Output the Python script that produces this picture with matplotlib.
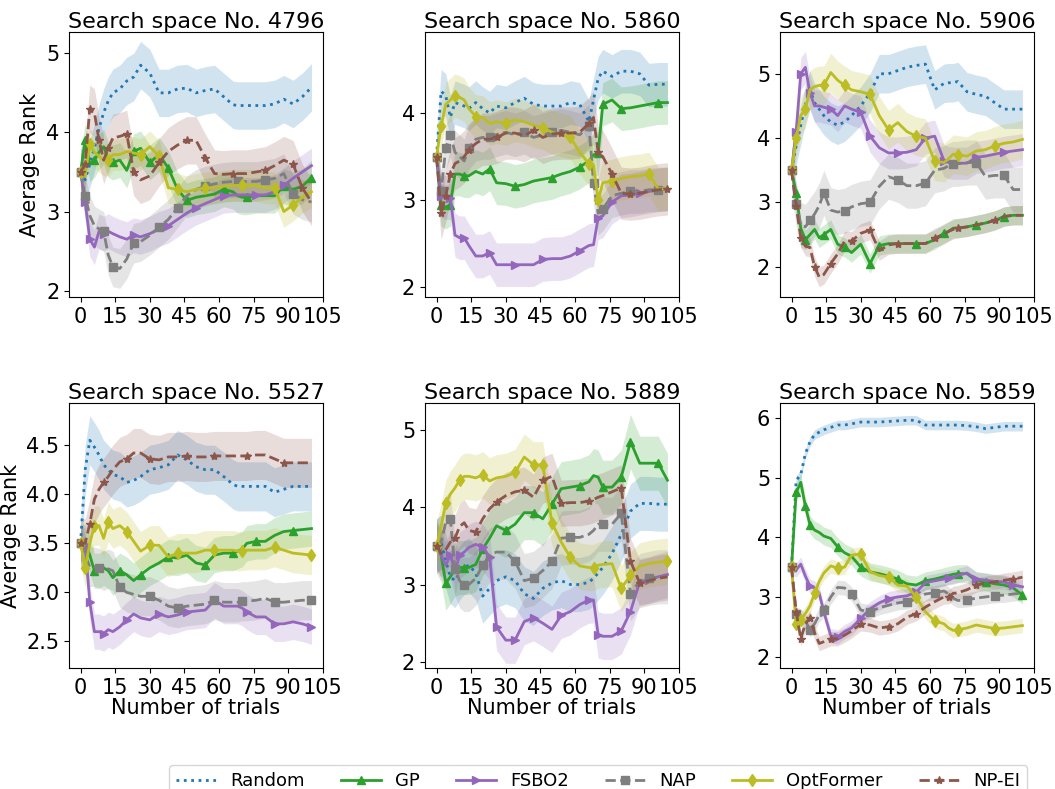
import numpy as np
import matplotlib
matplotlib.use('Agg')
import matplotlib.pyplot as plt
from matplotlib.ticker import MultipleLocator

trials = [0, 2, 4, 6, 8, 10, 12, 14, 17, 20, 23, 26, 30, 34, 38, 42, 46, 50,
          54, 58, 62, 66, 68, 70, 72, 76, 80, 84, 88, 92, 96, 100]

methods = ['Random', 'GP', 'FSBO2', 'NAP', 'OptFormer', 'NP-EI']
spaces = ['4796', '5860', '5906', '5527', '5889', '5859']

# ---- search space 4796
r4796_random = [3.5, 3.4, 3.6, 3.8, 4.05, 4.25, 4.4, 4.5, 4.55, 4.65, 4.7, 4.85, 4.75, 4.5, 4.5, 4.55,
                4.56, 4.5, 4.53, 4.55, 4.45, 4.35, 4.34, 4.34, 4.34, 4.34, 4.34, 4.36, 4.42, 4.36, 4.45, 4.57]
r4796_gp = [3.5, 3.9, 3.6, 3.65, 3.75, 3.82, 3.65, 3.62, 3.65, 3.52, 3.76, 3.8, 3.62, 3.72, 3.55, 3.28,
            3.14, 3.18, 3.2, 3.22, 3.28, 3.25, 3.2, 3.18, 3.18, 3.2, 3.2, 3.2, 3.32, 3.28, 3.32, 3.43]
r4796_fsbo = [3.5, 3.12, 2.65, 2.55, 2.75, 2.72, 2.75, 2.72, 2.68, 2.65, 2.7, 2.68, 2.72, 2.78, 2.82, 2.9,
              2.98, 3.05, 3.1, 3.15, 3.2, 3.21, 3.21, 3.21, 3.21, 3.21, 3.21, 3.25, 3.33, 3.42, 3.5, 3.58]
r4796_nap = [3.5, 3.2, 2.95, 2.82, 2.78, 2.75, 2.45, 2.3, 2.28, 2.4, 2.6, 2.62, 2.7, 2.8, 2.9, 3.05,
             3.2, 3.28, 3.32, 3.35, 3.37, 3.38, 3.38, 3.38, 3.38, 3.38, 3.4, 3.42, 3.48, 3.22, 3.15, 3.12]
r4796_opt = [3.5, 3.45, 3.85, 3.75, 3.7, 3.65, 3.65, 3.72, 3.72, 3.76, 3.74, 3.72, 3.82, 3.7, 3.3, 3.28,
             3.25, 3.28, 3.3, 3.3, 3.32, 3.33, 3.33, 3.33, 3.33, 3.33, 3.3, 3.3, 3.0, 3.08, 3.18, 3.25]
r4796_npei = [3.5, 3.6, 4.3, 4.25, 3.9, 3.65, 3.8, 3.93, 3.95, 3.98, 3.5, 3.4, 3.45, 3.62, 3.76, 3.84,
              3.9, 3.9, 3.68, 3.48, 3.47, 3.48, 3.48, 3.48, 3.48, 3.5, 3.52, 3.58, 3.65, 3.6, 3.3, 3.12]

# ---- search space 5860
r5860_random = [3.5, 4.25, 4.2, 3.95, 4.12, 4.1, 4.08, 4.05, 4.12, 4.05, 4.0, 4.08, 4.06, 4.12, 4.17, 4.1,
                4.08, 4.08, 4.08, 4.12, 4.1, 3.9, 4.15, 4.4, 4.48, 4.42, 4.48, 4.48, 4.45, 4.32, 4.33, 4.33]
r5860_gp = [3.5, 2.95, 2.92, 2.95, 3.3, 3.3, 3.28, 3.28, 3.33, 3.3, 3.36, 3.2, 3.19, 3.16, 3.18, 3.22,
            3.24, 3.26, 3.3, 3.33, 3.38, 3.45, 3.52, 3.54, 4.1, 4.15, 4.05, 4.06, 4.08, 4.1, 4.12, 4.12]
r5860_fsbo = [3.5, 3.05, 3.03, 3.03, 2.6, 2.57, 2.57, 2.48, 2.36, 2.36, 2.4, 2.26, 2.26, 2.26, 2.26, 2.26,
              2.32, 2.33, 2.33, 2.36, 2.42, 2.48, 2.49, 2.8, 2.82, 2.98, 3.05, 3.06, 3.08, 3.1, 3.12, 3.13]
r5860_nap = [3.5, 3.1, 3.6, 3.75, 3.55, 3.5, 3.45, 3.6, 3.7, 3.72, 3.72, 3.75, 3.78, 3.75, 3.78, 3.72,
             3.75, 3.78, 3.8, 3.78, 3.75, 3.85, 3.2, 2.85, 2.9, 3.05, 3.08, 3.1, 3.1, 3.12, 3.12, 3.13]
r5860_opt = [3.5, 3.85, 4.1, 4.15, 4.2, 4.18, 4.15, 4.05, 3.96, 3.95, 3.88, 3.9, 3.88, 3.92, 3.9, 3.86,
             3.83, 3.78, 3.75, 3.72, 3.55, 3.42, 3.4, 3.0, 3.2, 3.22, 3.25, 3.27, 3.28, 3.3, 3.13, 3.13]
r5860_npei = [3.5, 2.85, 3.05, 3.3, 3.42, 3.45, 3.5, 3.58, 3.65, 3.7, 3.7, 3.72, 3.77, 3.77, 3.74, 3.8,
              3.72, 3.76, 3.77, 3.77, 3.78, 3.88, 3.95, 3.55, 3.5, 3.3, 3.08, 3.07, 3.08, 3.1, 3.12, 3.13]

# ---- search space 5906
r5906_random = [3.5, 3.88, 4.2, 4.52, 4.75, 4.55, 4.45, 4.35, 4.25, 4.2, 4.25, 4.35, 4.5, 4.7, 5.0, 5.0,
                5.05, 5.1, 5.13, 5.15, 4.75, 4.85, 4.86, 4.86, 4.88, 4.72, 4.68, 4.65, 4.55, 4.45, 4.45, 4.45]
r5906_gp = [3.5, 3.15, 2.6, 2.42, 2.5, 2.58, 2.45, 2.5, 2.58, 2.35, 2.3, 2.22, 2.35, 2.05, 2.33, 2.36,
            2.36, 2.36, 2.36, 2.36, 2.42, 2.52, 2.55, 2.6, 2.6, 2.62, 2.65, 2.68, 2.72, 2.78, 2.8, 2.8]
r5906_fsbo = [3.5, 4.1, 5.0, 5.1, 4.7, 4.5, 4.5, 4.48, 4.45, 4.35, 4.5, 4.45, 4.4, 4.03, 3.85, 3.77,
              3.77, 3.78, 3.82, 4.0, 4.03, 3.65, 3.62, 3.61, 3.61, 3.61, 3.7, 3.72, 3.75, 3.78, 3.8, 3.82]
r5906_nap = [3.5, 2.98, 2.65, 2.62, 2.72, 2.82, 2.95, 3.15, 2.88, 2.85, 2.87, 2.93, 2.98, 3.0, 3.25, 3.4,
             3.35, 3.26, 3.26, 3.3, 3.5, 3.53, 3.57, 3.6, 3.6, 3.62, 3.62, 3.4, 3.42, 3.42, 3.2, 3.2]
r5906_opt = [3.5, 4.0, 4.35, 4.45, 4.75, 4.8, 4.82, 4.82, 5.02, 4.9, 4.82, 4.75, 4.72, 4.68, 4.35, 4.13,
             4.24, 4.1, 4.03, 4.0, 3.64, 3.62, 3.68, 3.75, 3.74, 3.72, 3.8, 3.82, 3.88, 3.92, 3.94, 3.98]
r5906_npei = [3.5, 2.95, 2.45, 2.32, 2.3, 2.0, 1.84, 1.88, 2.05, 2.2, 2.4, 2.4, 2.52, 2.57, 2.25, 2.34,
              2.36, 2.36, 2.36, 2.36, 2.45, 2.5, 2.55, 2.58, 2.6, 2.62, 2.65, 2.68, 2.72, 2.78, 2.8, 2.8]

# ---- search space 5527
r5527_random = [3.5, 4.25, 4.55, 4.48, 4.4, 4.3, 4.25, 4.2, 4.18, 4.12, 4.14, 4.18, 4.25, 4.27, 4.3, 4.4,
                4.35, 4.28, 4.25, 4.25, 4.18, 4.1, 4.08, 4.08, 4.08, 4.08, 4.08, 4.02, 4.05, 4.08, 4.08, 4.08]
r5527_gp = [3.5, 3.52, 3.38, 3.22, 3.22, 3.25, 3.22, 3.15, 3.22, 3.18, 3.12, 3.18, 3.25, 3.3, 3.36, 3.35,
            3.38, 3.3, 3.28, 3.38, 3.4, 3.4, 3.42, 3.44, 3.5, 3.52, 3.52, 3.58, 3.62, 3.63, 3.64, 3.65]
r5527_fsbo = [3.5, 3.48, 2.9, 2.6, 2.6, 2.58, 2.62, 2.6, 2.65, 2.72, 2.78, 2.74, 2.72, 2.78, 2.75, 2.77,
              2.8, 2.81, 2.82, 2.92, 2.86, 2.86, 2.86, 2.84, 2.8, 2.75, 2.75, 2.68, 2.68, 2.7, 2.68, 2.65]
r5527_nap = [3.5, 3.38, 3.26, 3.26, 3.25, 3.22, 3.24, 3.22, 3.05, 3.0, 2.98, 2.96, 2.96, 2.92, 2.86, 2.84,
             2.86, 2.87, 2.88, 2.92, 2.9, 2.9, 2.9, 2.91, 2.91, 2.92, 2.94, 2.9, 2.9, 2.91, 2.92, 2.92]
r5527_opt = [3.5, 3.25, 3.5, 3.68, 3.68, 3.55, 3.72, 3.65, 3.68, 3.62, 3.52, 3.42, 3.48, 3.48, 3.36, 3.4,
             3.4, 3.4, 3.43, 3.43, 3.43, 3.43, 3.42, 3.42, 3.43, 3.43, 3.43, 3.46, 3.43, 3.4, 3.39, 3.38]
r5527_npei = [3.5, 3.5, 3.7, 3.95, 4.05, 4.12, 4.18, 4.25, 4.33, 4.36, 4.42, 4.42, 4.36, 4.35, 4.38, 4.38,
              4.39, 4.38, 4.38, 4.39, 4.39, 4.39, 4.39, 4.39, 4.39, 4.4, 4.4, 4.36, 4.32, 4.32, 4.32, 4.32]

# ---- search space 5889
r5889_random = [3.5, 3.55, 3.3, 3.1, 3.05, 3.15, 3.22, 3.25, 3.15, 2.85, 2.95, 3.05, 3.1, 3.05, 2.88, 2.82,
                2.95, 3.02, 3.05, 3.0, 3.0, 3.03, 3.08, 3.15, 3.22, 3.4, 3.65, 3.95, 4.05, 4.05, 4.04, 4.04]
r5889_gp = [3.5, 3.38, 3.02, 3.1, 3.2, 3.22, 3.22, 3.22, 3.26, 3.46, 3.6, 3.76, 3.7, 3.78, 3.93, 3.93,
            3.85, 4.04, 4.24, 4.26, 4.28, 4.33, 4.41, 4.39, 4.26, 4.26, 4.39, 4.85, 4.57, 4.57, 4.57, 4.35]
r5889_fsbo = [3.5, 3.38, 3.25, 3.38, 3.17, 3.38, 3.42, 3.48, 3.52, 3.48, 3.36, 2.45, 2.28, 2.28, 2.52, 2.57,
              2.5, 2.42, 2.6, 2.65, 2.74, 2.8, 2.8, 2.35, 2.33, 2.33, 2.4, 2.65, 3.04, 3.06, 3.1, 3.13]
r5889_nap = [3.5, 3.55, 3.8, 3.85, 3.2, 3.05, 3.0, 3.0, 3.08, 3.25, 3.38, 3.42, 3.42, 3.3, 3.05, 3.08,
             3.18, 3.3, 3.6, 3.61, 3.61, 3.65, 3.7, 3.78, 3.78, 3.78, 3.92, 2.88, 3.05, 3.08, 3.1, 3.1]
r5889_opt = [3.5, 3.75, 4.05, 4.17, 4.25, 4.35, 4.4, 4.4, 4.38, 4.42, 4.34, 4.38, 4.4, 4.45, 4.65, 4.55,
             4.55, 3.8, 3.55, 3.35, 3.24, 3.22, 3.22, 3.25, 3.26, 3.27, 2.95, 3.12, 3.24, 3.27, 3.29, 3.3]
r5889_npei = [3.5, 3.4, 3.45, 3.55, 3.6, 3.75, 3.8, 3.7, 3.68, 3.85, 3.98, 4.07, 4.15, 4.2, 4.22, 4.13,
              4.35, 4.4, 4.05, 4.06, 4.06, 4.08, 4.1, 4.13, 4.15, 4.2, 4.25, 3.3, 3.02, 3.05, 3.08, 3.1]

# ---- search space 5859
r5859_random = [3.5, 4.95, 5.05, 5.4, 5.6, 5.72, 5.76, 5.8, 5.84, 5.88, 5.88, 5.9, 5.93, 5.93, 5.93, 5.94,
                5.95, 5.96, 5.96, 5.88, 5.88, 5.88, 5.88, 5.88, 5.88, 5.87, 5.85, 5.82, 5.84, 5.86, 5.86, 5.86]
r5859_gp = [3.5, 4.75, 4.92, 4.52, 4.21, 4.12, 4.08, 4.02, 3.98, 3.84, 3.74, 3.68, 3.5, 3.42, 3.39, 3.35,
            3.3, 3.22, 3.2, 3.27, 3.3, 3.34, 3.36, 3.38, 3.39, 3.39, 3.27, 3.25, 3.22, 3.2, 3.15, 3.03]
r5859_fsbo = [3.5, 3.45, 3.55, 3.35, 3.18, 3.15, 3.06, 2.75, 2.35, 2.33, 2.42, 2.48, 2.64, 2.8, 2.9, 2.97,
              3.0, 3.02, 3.08, 3.24, 3.27, 3.3, 3.32, 3.33, 3.36, 3.4, 3.3, 3.28, 3.26, 3.25, 3.2, 3.17]
r5859_nap = [3.5, 2.72, 2.68, 2.6, 2.45, 2.55, 2.7, 2.78, 3.0, 3.16, 3.15, 3.05, 2.78, 2.75, 2.82, 2.86,
             2.9, 2.92, 2.96, 3.05, 3.07, 3.1, 3.05, 2.98, 2.94, 2.95, 2.98, 3.0, 3.02, 3.03, 3.05, 3.06]
r5859_opt = [3.5, 2.55, 2.62, 2.72, 2.85, 3.06, 3.26, 3.4, 3.52, 3.48, 3.5, 3.7, 3.72, 3.42, 3.36, 3.33,
             3.2, 3.18, 3.0, 2.75, 2.6, 2.55, 2.48, 2.44, 2.45, 2.48, 2.53, 2.5, 2.47, 2.48, 2.5, 2.52]
r5859_npei = [3.5, 2.75, 2.3, 2.55, 2.65, 2.4, 2.22, 2.25, 2.3, 2.3, 2.36, 2.43, 2.55, 2.53, 2.48, 2.5,
              2.55, 2.66, 2.72, 2.83, 2.92, 3.0, 3.0, 3.06, 3.07, 3.12, 3.2, 3.23, 3.25, 3.28, 3.3, 3.33]

# half width of the shaded band, one value per method and search space
band_4796 = [0.3, 0.22, 0.22, 0.25, 0.2, 0.3]
band_5860 = [0.25, 0.25, 0.25, 0.25, 0.25, 0.3]
band_5906 = [0.3, 0.15, 0.25, 0.35, 0.3, 0.15]
band_5527 = [0.25, 0.18, 0.18, 0.2, 0.2, 0.25]
band_5889 = [0.35, 0.35, 0.3, 0.35, 0.3, 0.3]
band_5859 = [0.08, 0.15, 0.12, 0.12, 0.12, 0.12]

results = {
    '4796': [r4796_random, r4796_gp, r4796_fsbo, r4796_nap, r4796_opt, r4796_npei],
    '5860': [r5860_random, r5860_gp, r5860_fsbo, r5860_nap, r5860_opt, r5860_npei],
    '5906': [r5906_random, r5906_gp, r5906_fsbo, r5906_nap, r5906_opt, r5906_npei],
    '5527': [r5527_random, r5527_gp, r5527_fsbo, r5527_nap, r5527_opt, r5527_npei],
    '5889': [r5889_random, r5889_gp, r5889_fsbo, r5889_nap, r5889_opt, r5889_npei],
    '5859': [r5859_random, r5859_gp, r5859_fsbo, r5859_nap, r5859_opt, r5859_npei],
}
bands = {'4796': band_4796, '5860': band_5860, '5906': band_5906,
         '5527': band_5527, '5889': band_5889, '5859': band_5859}

ylims = {'4796': (1.92, 5.27), '5860': (1.89, 4.93), '5906': (1.53, 5.65),
         '5527': (2.23, 4.93), '5889': (1.92, 5.35), '5859': (1.81, 6.25)}
ysteps = {'4796': 1, '5860': 1, '5906': 1, '5527': 0.5, '5889': 1, '5859': 1}

colors = ['tab:blue', 'tab:green', 'tab:purple', 'tab:gray', 'tab:olive', 'tab:brown']
styles = [':', '-', '-', '--', '-', '--']
markers = [None, '^', '>', 's', 'd', '*']

fig = plt.figure(figsize=(10.55, 7.89), dpi=100)
lefts = [0.0654, 0.4028, 0.7393]
bottoms = [0.6236, 0.1534]
x = np.array(trials)

handles = []
for k, sp in enumerate(spaces):
    row, col = divmod(k, 3)
    ax = fig.add_axes([lefts[col], bottoms[row], 0.2408, 0.3359])
    for i, m in enumerate(methods):
        y = np.array(results[sp][i])
        b = bands[sp][i]
        ax.fill_between(x, y - b, y + b, color=colors[i], alpha=0.2, lw=0)
        ln, = ax.plot(x, y, color=colors[i], ls=styles[i], lw=2.0,
                      marker=markers[i], markersize=6, markevery=0.09, label=m)
        if k == 0:
            handles.append(ln)
    ax.set_xticks(range(0, 106, 15))
    ax.set_xlim(-5, 105)
    ax.set_ylim(*ylims[sp])
    ax.yaxis.set_major_locator(MultipleLocator(ysteps[sp]))
    ax.tick_params(labelsize=15)
    ax.set_title('Search space No. ' + sp, fontsize=16, pad=2)
    if col == 0:
        ax.set_ylabel('Average Rank', fontsize=15)
    if row == 1:
        ax.set_xlabel('Number of trials', fontsize=15, labelpad=0)

fig.legend(handles=handles, loc='upper center', bbox_to_anchor=(0.567, 0.042),
           ncol=6, fontsize=13, columnspacing=2.0, handlelength=2.2)

plt.savefig('out.png')
